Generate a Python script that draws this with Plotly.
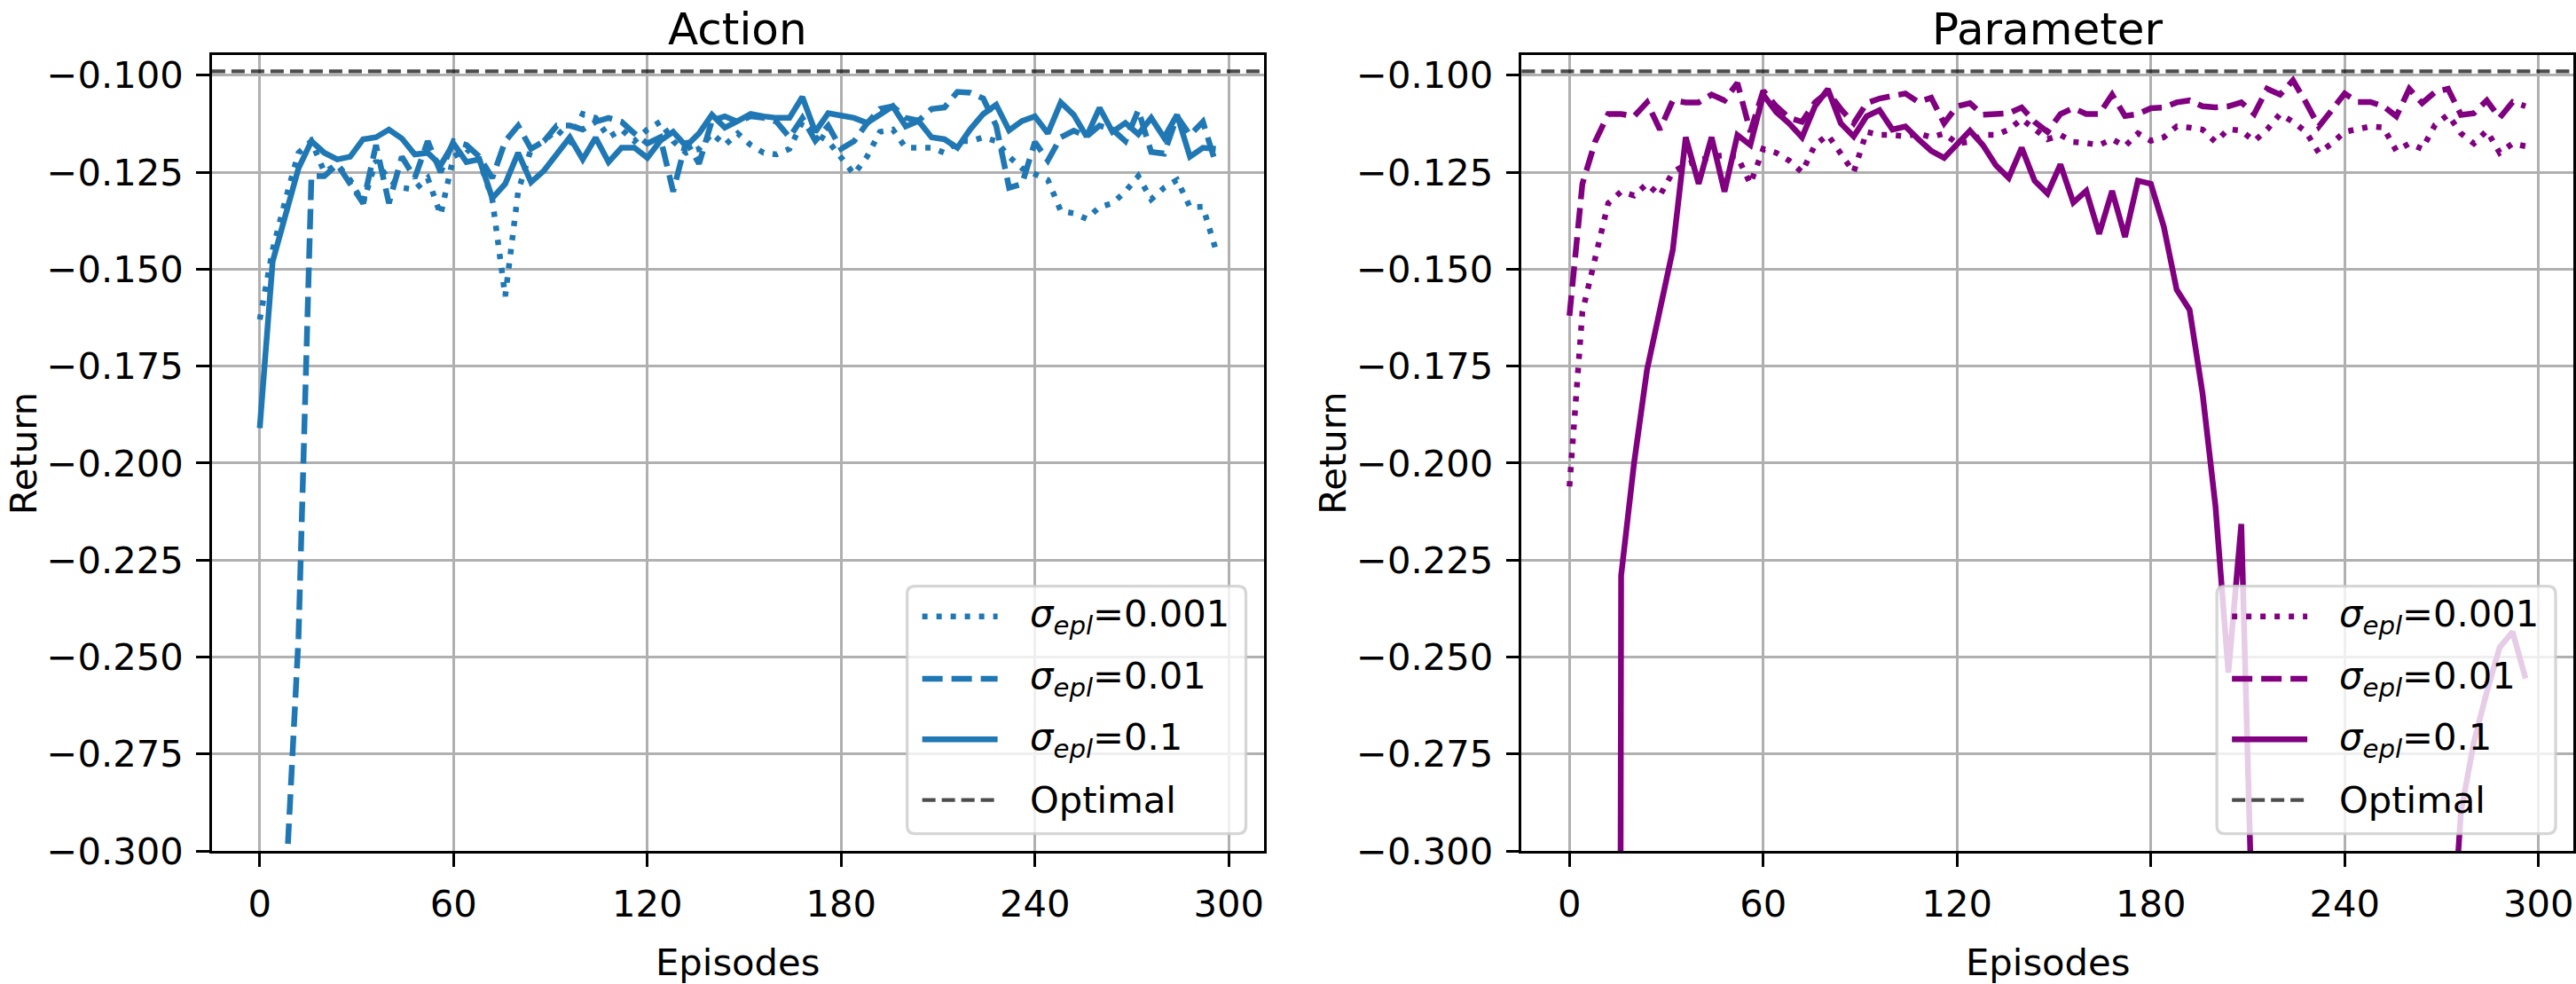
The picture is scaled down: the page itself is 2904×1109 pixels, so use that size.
import plotly.graph_objects as go

# ---------------- data ----------------
EPISODES = list(range(0, 300, 4))

ACTION_S0001 = [-0.163, -0.145, -0.132, -0.120, -0.117, -0.125, -0.123, -0.127, -0.133, -0.122,
                -0.127, -0.129, -0.1295, -0.1265, -0.136, -0.121, -0.119, -0.122, -0.132, -0.157,
                -0.130, -0.119, -0.117, -0.114, -0.117, -0.110, -0.111, -0.116, -0.114, -0.117,
                -0.114, -0.112, -0.117, -0.120, -0.119, -0.115, -0.118, -0.115, -0.118, -0.120,
                -0.1204, -0.119, -0.112, -0.115, -0.117, -0.121, -0.1255, -0.121, -0.1146, -0.114,
                -0.1187, -0.1187, -0.1187, -0.120, -0.117, -0.117, -0.116, -0.117, -0.121, -0.124,
                -0.1257, -0.127, -0.135, -0.1356, -0.137, -0.134, -0.133, -0.130, -0.126, -0.132,
                -0.129, -0.127, -0.134, -0.1339, -0.145]
ACTION_S001 = [-0.60, -0.45, -0.31, -0.245, -0.126, -0.126, -0.123, -0.128, -0.133, -0.118,
               -0.133, -0.121, -0.1265, -0.117, -0.125, -0.117, -0.118, -0.121, -0.1265, -0.117,
               -0.113, -0.119, -0.117, -0.113, -0.113, -0.114, -0.112, -0.111, -0.112, -0.115,
               -0.1176, -0.116, -0.130, -0.117, -0.1228, -0.1117, -0.1106, -0.112, -0.1106, -0.111,
               -0.112, -0.116, -0.111, -0.1169, -0.113, -0.119, -0.117, -0.1124, -0.1087, -0.108,
               -0.111, -0.1117, -0.1087, -0.1083, -0.1043, -0.1045, -0.106, -0.113, -0.129, -0.128,
               -0.1172, -0.122, -0.116, -0.1143, -0.1158, -0.113, -0.114, -0.117, -0.109, -0.1198,
               -0.1202, -0.1106, -0.1154, -0.112, -0.1228]
ACTION_S01 = [-0.191, -0.148, -0.136, -0.124, -0.117, -0.120, -0.1217, -0.121, -0.1165, -0.116,
              -0.114, -0.1163, -0.1204, -0.120, -0.1232, -0.1176, -0.1224, -0.1217, -0.1317, -0.128,
              -0.120, -0.1276, -0.1246, -0.120, -0.116, -0.1217, -0.1161, -0.1224, -0.1187, -0.1187,
              -0.1213, -0.1169, -0.1146, -0.1183, -0.115, -0.1102, -0.1135, -0.1118, -0.110, -0.1106,
              -0.111, -0.111, -0.1056, -0.1146, -0.1098, -0.1104, -0.111, -0.1123, -0.110, -0.108,
              -0.1132, -0.1118, -0.116, -0.1165, -0.1187, -0.1139, -0.110, -0.1076, -0.1142, -0.1118,
              -0.1106, -0.115, -0.107, -0.1102, -0.1158, -0.1084, -0.1146, -0.1123, -0.1152, -0.111,
              -0.1161, -0.1102, -0.121, -0.1187, -0.119]

PARAM_S0001 = [-0.206, -0.161, -0.147, -0.133, -0.130, -0.131, -0.128, -0.131, -0.125, -0.123,
               -0.122, -0.121, -0.1206, -0.121, -0.128, -0.119, -0.120, -0.122, -0.125, -0.118,
               -0.1154, -0.120, -0.125, -0.1146, -0.1154, -0.1154, -0.1158, -0.115, -0.116, -0.115,
               -0.1176, -0.1172, -0.1154, -0.1154, -0.114, -0.1113, -0.114, -0.1165, -0.1154, -0.1172,
               -0.1175, -0.118, -0.1165, -0.1183, -0.115, -0.1169, -0.116, -0.1132, -0.1135, -0.114,
               -0.1172, -0.1139, -0.1143, -0.117, -0.114, -0.110, -0.112, -0.1146, -0.120, -0.1176,
               -0.1146, -0.1139, -0.1132, -0.1135, -0.1195, -0.1176, -0.119, -0.1128, -0.1102, -0.115,
               -0.1176, -0.1143, -0.120, -0.1176, -0.1183]
PARAM_S001 = [-0.162, -0.128, -0.117, -0.110, -0.110, -0.1106, -0.107, -0.114, -0.1065, -0.107,
              -0.107, -0.105, -0.1065, -0.102, -0.1146, -0.104, -0.108, -0.111, -0.112, -0.107,
              -0.1043, -0.1087, -0.1124, -0.1072, -0.106, -0.1054, -0.1047, -0.1069, -0.1058, -0.1124,
              -0.108, -0.1072, -0.1102, -0.110, -0.1098, -0.1083, -0.112, -0.1146, -0.110, -0.1085,
              -0.110, -0.110, -0.105, -0.1105, -0.110, -0.1085, -0.1083, -0.107, -0.1065, -0.108,
              -0.1083, -0.108, -0.107, -0.110, -0.1035, -0.105, -0.1013, -0.107, -0.1132, -0.109,
              -0.1047, -0.1069, -0.1069, -0.108, -0.1106, -0.1035, -0.1072, -0.1043, -0.1035, -0.1102,
              -0.1098, -0.1065, -0.111, -0.1069, -0.108]
PARAM_S01 = [-2.6, -2.4, -2.2, -2.0, -0.229, -0.200, -0.176, -0.160, -0.145, -0.116,
             -0.128, -0.116, -0.130, -0.1154, -0.118, -0.105, -0.1095, -0.1124, -0.116, -0.108,
             -0.1036, -0.1124, -0.1158, -0.1106, -0.109, -0.114, -0.1132, -0.1165, -0.1195, -0.1213,
             -0.1176, -0.1143, -0.118, -0.1232, -0.1265, -0.1187, -0.1272, -0.1305, -0.123, -0.1328,
             -0.1298, -0.1409, -0.1298, -0.1417, -0.1272, -0.128, -0.139, -0.1553, -0.1605, -0.182,
             -0.211, -0.254, -0.2157, -0.43, -0.52, -0.58, -0.61, -0.63, -0.60, -0.62,
             -0.59, -0.57, -0.55, -0.56, -0.52, -0.49, -0.45, -0.40, -0.34, -0.29,
             -0.272, -0.259, -0.2475, -0.2435, -0.2555]

OPTIMAL = -0.099
SERIES_NAMES = ["0.001", "0.01", "0.1"]
PANEL_TITLES = ["Action", "Parameter"]
X_TICKS = [0, 60, 120, 180, 240, 300]
Y_TICKS = [-0.300, -0.275, -0.250, -0.225, -0.200, -0.175, -0.150, -0.125, -0.100]

# ---------------- style ----------------
W, H = 2904, 1109
FONT = "DejaVu Sans"
FS = 41.7
BLUE = "#1f77b4"
PURPLE = "#800080"
LW = 6.5
DASHES = ["6px,10px", "23px,10px", "solid"]


def px(x):
    return x / W


def py(y):
    return 1 - y / H


PLOT_TOP, PLOT_BOTTOM = 62, 981
PANELS = [(239, 1425), (1716, 2902)]

fig = go.Figure()

data = [(ACTION_S0001, ACTION_S001, ACTION_S01, BLUE),
        (PARAM_S0001, PARAM_S001, PARAM_S01, PURPLE)]

for i, (s1, s2, s3, color) in enumerate(data):
    ax = "" if i == 0 else "2"
    for vals, dash, name in zip((s1, s2, s3), DASHES, SERIES_NAMES):
        fig.add_trace(go.Scatter(
            x=EPISODES, y=vals, mode="lines",
            name="σepl=" + name, showlegend=False,
            line=dict(color=color, width=LW, dash=dash),
            xaxis="x" + ax, yaxis="y" + ax, hoverinfo="skip"))

axis_common = dict(
    showgrid=True, gridcolor="#b0b0b0", gridwidth=3.3,
    showline=True, mirror=True, linecolor="black", linewidth=3.3,
    ticks="outside", ticklen=14.6, tickwidth=3.3, tickcolor="black",
    tickfont=dict(family=FONT, size=FS, color="black"),
    zeroline=False, fixedrange=True,
)

ytext = [("−%.3f" % abs(v)) for v in Y_TICKS]
layout_axes = {}
for i, (l, r) in enumerate(PANELS):
    ax = "" if i == 0 else "2"
    layout_axes["xaxis" + ax] = dict(
        axis_common, domain=[px(l), px(r)], range=[-14.8, 310.8],
        tickvals=X_TICKS, ticktext=[str(t) for t in X_TICKS],
        anchor="y" + ax, ticklabelstandoff=6)
    layout_axes["yaxis" + ax] = dict(
        axis_common, domain=[py(PLOT_BOTTOM), py(PLOT_TOP)], range=[-0.300, -0.0949],
        tickvals=Y_TICKS, ticktext=ytext, anchor="x" + ax, ticklabelstandoff=6)

fig.update_layout(
    width=W, height=H, autosize=False,
    margin=dict(l=0, r=0, t=0, b=0, pad=0),
    paper_bgcolor="white", plot_bgcolor="white",
    font=dict(family=FONT, size=FS, color="black"),
    showlegend=False,
    **layout_axes,
)

shapes = []
annotations = []
for i, (l, r) in enumerate(PANELS):
    ax = "" if i == 0 else "2"
    color = data[i][3]
    # optimal line
    shapes.append(dict(type="line", xref="x%s domain" % ax, yref="y" + ax,
                       x0=0, x1=1, y0=OPTIMAL, y1=OPTIMAL, layer="above",
                       line=dict(color="rgba(0,0,0,0.7)", width=4.2, dash="15px,7px")))
    cx = (l + r) / 2
    annotations.append(dict(text=PANEL_TITLES[i], x=px(cx), y=py(32), xref="paper", yref="paper",
                            xanchor="center", yanchor="middle", showarrow=False,
                            font=dict(family=FONT, size=50, color="black")))
    annotations.append(dict(text="Episodes", x=px(cx), y=py(1082), xref="paper", yref="paper",
                            xanchor="center", yanchor="top", showarrow=False,
                            font=dict(family=FONT, size=FS, color="black")))
    annotations.append(dict(text="Return", x=px(l - 186), y=py((PLOT_TOP + PLOT_BOTTOM) / 2),
                            xref="paper", yref="paper", textangle=-90,
                            xanchor="right", yanchor="middle", showarrow=False,
                            font=dict(family=FONT, size=FS, color="black")))
    # legend box
    bx0, bx1 = r - 402, r - 20
    by0, by1 = 675, 961
    rr = 9
    path = ("M {a},{b} L {c},{b} Q {r1},{b} {r1},{d} L {r1},{e} Q {r1},{f} {c},{f} "
            "L {a},{f} Q {l1},{f} {l1},{e} L {l1},{d} Q {l1},{b} {a},{b} Z").format(
        a=px(bx0 + rr), c=px(bx1 - rr), b=py(by0), d=py(by0 + rr), e=py(by1 - rr), f=py(by1),
        l1=px(bx0), r1=px(bx1))
    shapes.append(dict(type="path", xref="paper", yref="paper", path=path, layer="above",
                       fillcolor="rgba(255,255,255,0.8)",
                       line=dict(color="rgba(204,204,204,0.8)", width=3.3)))
    rows = [710, 782, 852, 922]
    labels = ["<i>σ</i><sub><i>epl</i></sub>=" + n for n in SERIES_NAMES] + ["Optimal"]
    styles = [(color, LW, DASHES[0]), (color, LW, DASHES[1]), (color, LW, "solid"),
              ("rgba(0,0,0,0.7)", 4.2, "15px,7px")]
    hx0 = bx0 + 17
    for yy, lab, (c, w, d) in zip(rows, labels, styles):
        shapes.append(dict(type="line", xref="paper", yref="paper", layer="above",
                           x0=px(hx0), x1=px(hx0 + 85), y0=py(yy), y1=py(yy),
                           line=dict(color=c, width=w, dash=d)))
        annotations.append(dict(text=lab, x=px(hx0 + 119), y=py(yy), xref="paper", yref="paper",
                                xanchor="left", yanchor="middle", showarrow=False,
                                font=dict(family=FONT, size=FS, color="black")))

fig.update_layout(shapes=shapes, annotations=annotations)
fig.write_html("out.html")
